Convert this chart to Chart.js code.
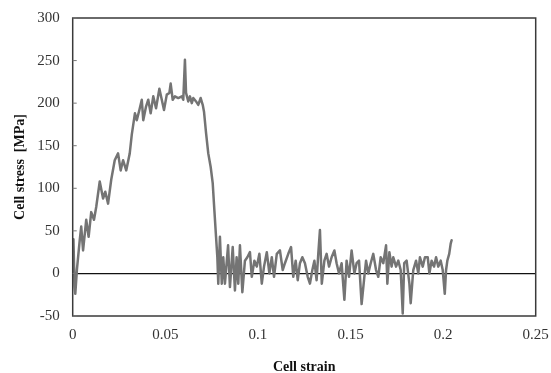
<!DOCTYPE html>
<html>
<head>
<meta charset="utf-8">
<script src="https://cdn.jsdelivr.net/npm/chart.js@4.4.0/dist/chart.umd.min.js"></script>
<style>
  html, body { margin: 0; padding: 0; background: #fff; }
  #wrap { width: 551px; height: 373px; }
</style>
</head>
<body>
<div id="wrap"><canvas id="stressChart"></canvas></div>
<script>
// cell strain (x) and cell stress in MPa (y)
const strain = [
  0, 0.0004, 0.001, 0.0014, 0.0023, 0.0038, 0.0046, 0.0056, 0.0073, 0.0086,
  0.01, 0.0115, 0.0127, 0.0146, 0.0164, 0.0176, 0.0191, 0.0208, 0.0227, 0.0245,
  0.0259, 0.0272, 0.0289, 0.0308, 0.0319, 0.0336, 0.0346, 0.036, 0.0373, 0.0381,
  0.0396, 0.0408, 0.0421, 0.0435, 0.045, 0.0468, 0.0481, 0.0493, 0.0508, 0.0522,
  0.0529, 0.054, 0.0552, 0.057, 0.0589, 0.0597, 0.0606, 0.0612, 0.0624, 0.0633,
  0.0643, 0.0651, 0.0666, 0.0678, 0.0691, 0.0702, 0.0709, 0.072, 0.0732, 0.0745,
  0.0756, 0.0765, 0.0774, 0.0781, 0.0786, 0.0795, 0.0805, 0.0813, 0.0822, 0.0839,
  0.0849, 0.0864, 0.0876, 0.0885, 0.0894, 0.0903, 0.0916, 0.093, 0.0943, 0.0957,
  0.0967, 0.0981, 0.0994, 0.1008, 0.1021, 0.1033, 0.1048, 0.1062, 0.1075, 0.1087,
  0.1102, 0.1119, 0.1134, 0.1146, 0.1164, 0.1179, 0.1191, 0.1204, 0.1215, 0.1227,
  0.124, 0.1254, 0.1269, 0.1281, 0.1294, 0.1305, 0.1317, 0.1326, 0.1335, 0.1345,
  0.1359, 0.1371, 0.1384, 0.1398, 0.1413, 0.1425, 0.1438, 0.1452, 0.1467, 0.1479,
  0.1492, 0.1506, 0.1521, 0.1533, 0.1546, 0.156, 0.1573, 0.1584, 0.1596, 0.1609,
  0.1623, 0.1638, 0.165, 0.1663, 0.1677, 0.1692, 0.1699, 0.171, 0.1722, 0.1731,
  0.1746, 0.1758, 0.1771, 0.1782, 0.179, 0.1803, 0.1818, 0.1825, 0.1839, 0.1854,
  0.1866, 0.1875, 0.189, 0.1902, 0.1917, 0.1926, 0.1938, 0.1951, 0.1962, 0.1974,
  0.1987, 0.1998, 0.2009, 0.2016, 0.2023, 0.2033, 0.2041, 0.2046
]
const stress = [
  0, 40, -15, -24, 5, 39, 55, 27, 63, 43,
  72, 63, 78, 108, 88, 96, 82, 110, 133, 141,
  121, 133, 121, 141, 163, 188, 180, 192, 204, 180,
  196, 204, 188, 208, 194, 217, 204, 192, 210, 212,
  223, 204, 208, 206, 208, 204, 251, 212, 202, 208,
  200, 206, 202, 198, 206, 198, 190, 165, 141, 125,
  106, 74, 43, 19, -12, 43, -12, 19, -12, 33,
  -16, 31, -20, 19, -12, 33, -22, 15, 19, 25,
  -4, 15, 8, 23, -12, 8, 25, 0, 19, -4,
  23, 27, 4, 12, 23, 31, -4, 15, -8, 12,
  19, 12, -4, -12, 4, 15, -8, 23, 51, -12,
  15, 23, 8, 19, 27, 12, 0, 12, -31, 15,
  -4, 27, 0, 12, 15, -36, -8, 15, 0, 12,
  23, 4, -4, 19, 12, 33, -12, 25, 8, 19,
  8, 15, 4, -47, 12, 15, -12, -35, 4, 15,
  0, 19, 8, 19, 19, 0, 15, 8, 19, 8,
  15, 4, -24, 4, 15, 23, 35, 39
]

const xTicks = [0, 0.05, 0.1, 0.15, 0.2, 0.25]
const yTicks = [-50, 0, 50, 100, 150, 200, 250, 300]

let points = strain.map((s, i) => ({ x: s, y: stress[i] }))

// frame round the plot and short inward ticks on the y axis
const frameBox = {
  id: 'frameBox',
  afterDraw(chart) {
    let ctx = chart.ctx
    let a = chart.chartArea
    let yScale = chart.scales.y
    ctx.save()
    ctx.strokeStyle = '#3a3a3a'
    ctx.lineWidth = 1.5
    ctx.strokeRect(a.left, a.top, a.right - a.left, a.bottom - a.top)
    ctx.lineWidth = 1
    ctx.strokeStyle = '#777'
    yTicks.forEach(v => {
      let py = yScale.getPixelForValue(v)
      ctx.beginPath()
      ctx.moveTo(a.left, py)
      ctx.lineTo(a.left + 4, py)
      ctx.stroke()
    })
    ctx.restore()
  }
}

let tickFont = { family: '"Liberation Serif", "Times New Roman", serif', size: 15 }
let titleFont = { family: '"Liberation Serif", "Times New Roman", serif', size: 14, weight: 'bold' }

new Chart(document.getElementById('stressChart'), {
  type: 'line',
  data: {
    datasets: [{
      data: points,
      borderColor: '#747474',
      borderWidth: 2.5,
      borderJoinStyle: 'round',
      borderCapStyle: 'round',
      pointRadius: 0,
      tension: 0,
      fill: false
    }]
  },
  options: {
    responsive: true,
    maintainAspectRatio: false,
    animation: false,
    layout: { padding: { left: 0, top: 18, right: 15.3, bottom: 0 } },
    plugins: { legend: { display: false }, tooltip: { enabled: false } },
    scales: {
      x: {
        type: 'linear',
        min: 0,
        max: 0.25,
        afterFit: (s) => {
          s.height = 57
          s.paddingLeft = 0
          s.paddingRight = 0
        },
        afterBuildTicks: (s) => { s.ticks = xTicks.map(v => ({ value: v })) },
        grid: { display: false, drawTicks: false },
        border: { display: false },
        ticks: {
          color: '#333',
          font: tickFont,
          padding: 10,
          maxRotation: 0,
          callback: (v) => String(Number(v.toFixed(2)))
        },
        title: {
          display: true,
          text: 'Cell strain',
          color: '#111',
          font: titleFont,
          padding: { top: 3, bottom: -3 }
        }
      },
      y: {
        min: -50,
        max: 300,
        afterFit: (s) => {
          s.width = 72.7
          s.paddingTop = 0
          s.paddingBottom = 0
        },
        afterBuildTicks: (s) => { s.ticks = yTicks.map(v => ({ value: v })) },
        grid: {
          drawTicks: false,
          color: (c) => c.tick && c.tick.value === 0 ? '#111' : 'rgba(0,0,0,0)',
          lineWidth: 1.3
        },
        border: { display: false },
        ticks: {
          color: '#333',
          font: tickFont,
          padding: 13
        },
        title: {
          display: true,
          text: 'Cell stress  [MPa]',
          color: '#111',
          font: titleFont,
          padding: { top: 12, bottom: 0 }
        }
      }
    }
  },
  plugins: [frameBox]
})
</script>
</body>
</html>
